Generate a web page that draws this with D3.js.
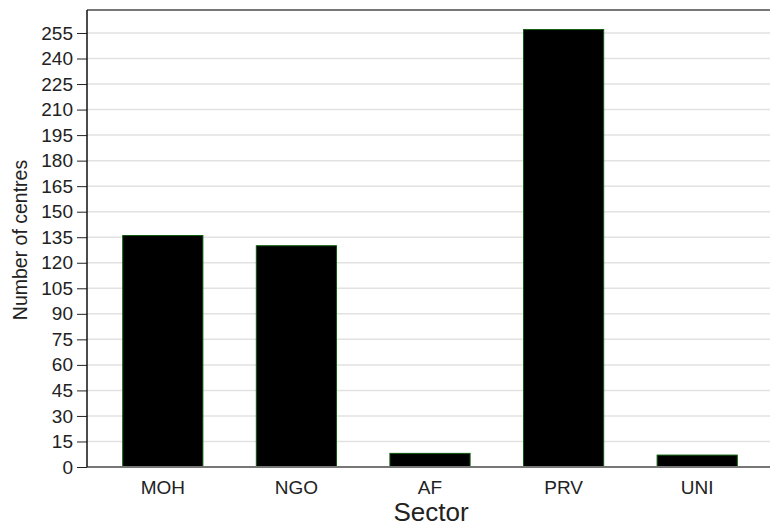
<!DOCTYPE html>
<head>
    <meta charset="UTF-8">
    <script src="https://cdnjs.cloudflare.com/ajax/libs/d3/7.8.5/d3.min.js"></script>
    <style>
        body { margin: 0; background: #fff; }
        text { font-family: "Liberation Sans", Arial, sans-serif; }
    </style>
</head>
<body>
    <svg id="chart"></svg>
    <script>
        // datos
        var sectors = ["MOH", "NGO", "AF", "PRV", "UNI"];
        var centres = [136, 130, 8, 257, 7];
        var yTicks = d3.range(0, 256, 15);

        var width = 771, height = 526;
        var mLeft = 87, mRight = 770, mTop = 10, mBottom = 467;

        var svg = d3.select("#chart")
            .attr("width", width)
            .attr("height", height);

        var x = d3.scaleBand()
            .domain(sectors)
            .range([96, 764])
            .paddingInner(0.4)
            .paddingOuter(0.2);

        var y = d3.scaleLinear()
            .domain([0, 268.5])
            .range([mBottom, mTop]);

        // grid
        svg.append("g")
            .selectAll("line")
            .data(yTicks.filter(function (d) { return d > 0; }))
            .enter().append("line")
            .attr("x1", mLeft).attr("x2", mRight)
            .attr("y1", function (d) { return y(d); })
            .attr("y2", function (d) { return y(d); })
            .style("stroke", "#e2e2e2")
            .style("stroke-width", 1.5);

        // barras
        svg.append("g")
            .selectAll("rect")
            .data(sectors)
            .enter().append("rect")
            .attr("x", function (d) { return x(d); })
            .attr("width", x.bandwidth())
            .attr("y", function (d, i) { return y(centres[i]); })
            .attr("height", function (d, i) { return mBottom - y(centres[i]); })
            .style("fill", "black")
            .style("stroke", "#0b5a0b")
            .style("stroke-width", 1);

        // borde superior
        svg.append("line")
            .attr("x1", mLeft).attr("x2", mRight)
            .attr("y1", mTop).attr("y2", mTop)
            .style("stroke", "#777").style("stroke-width", 2);

        // eje x
        svg.append("line")
            .attr("x1", mLeft).attr("x2", mRight)
            .attr("y1", mBottom).attr("y2", mBottom)
            .style("stroke", "#777").style("stroke-width", 2);

        svg.append("g")
            .selectAll("text")
            .data(sectors)
            .enter().append("text")
            .attr("x", function (d) { return x(d) + x.bandwidth() / 2; })
            .attr("y", 493.5)
            .attr("text-anchor", "middle")
            .style("font-size", "19px")
            .style("fill", "#222")
            .text(function (d) { return d; });

        // eje y
        var yAxis = svg.append("g")
            .attr("transform", "translate(" + mLeft + ",0)")
            .call(d3.axisLeft(y).tickValues(yTicks).tickSize(10).tickPadding(4));
        yAxis.select(".domain").remove();
        yAxis.selectAll("text")
            .style("font-size", "19px")
            .style("fill", "#222")
            .style("font-family", "Liberation Sans, Arial, sans-serif");
        yAxis.selectAll("line").style("stroke", "#222");

        svg.append("line")
            .attr("x1", mLeft).attr("x2", mLeft)
            .attr("y1", mTop).attr("y2", mBottom)
            .style("stroke", "#111").style("stroke-width", 1.5);

        // titulos
        svg.append("text")
            .attr("x", 431)
            .attr("y", 521)
            .attr("text-anchor", "middle")
            .style("font-size", "26px")
            .style("fill", "#222")
            .text("Sector");

        svg.append("text")
            .attr("transform", "translate(27,240) rotate(-90)")
            .attr("text-anchor", "middle")
            .style("font-size", "19.5px")
            .style("fill", "#222")
            .text("Number of centres");
    </script>
</body>
